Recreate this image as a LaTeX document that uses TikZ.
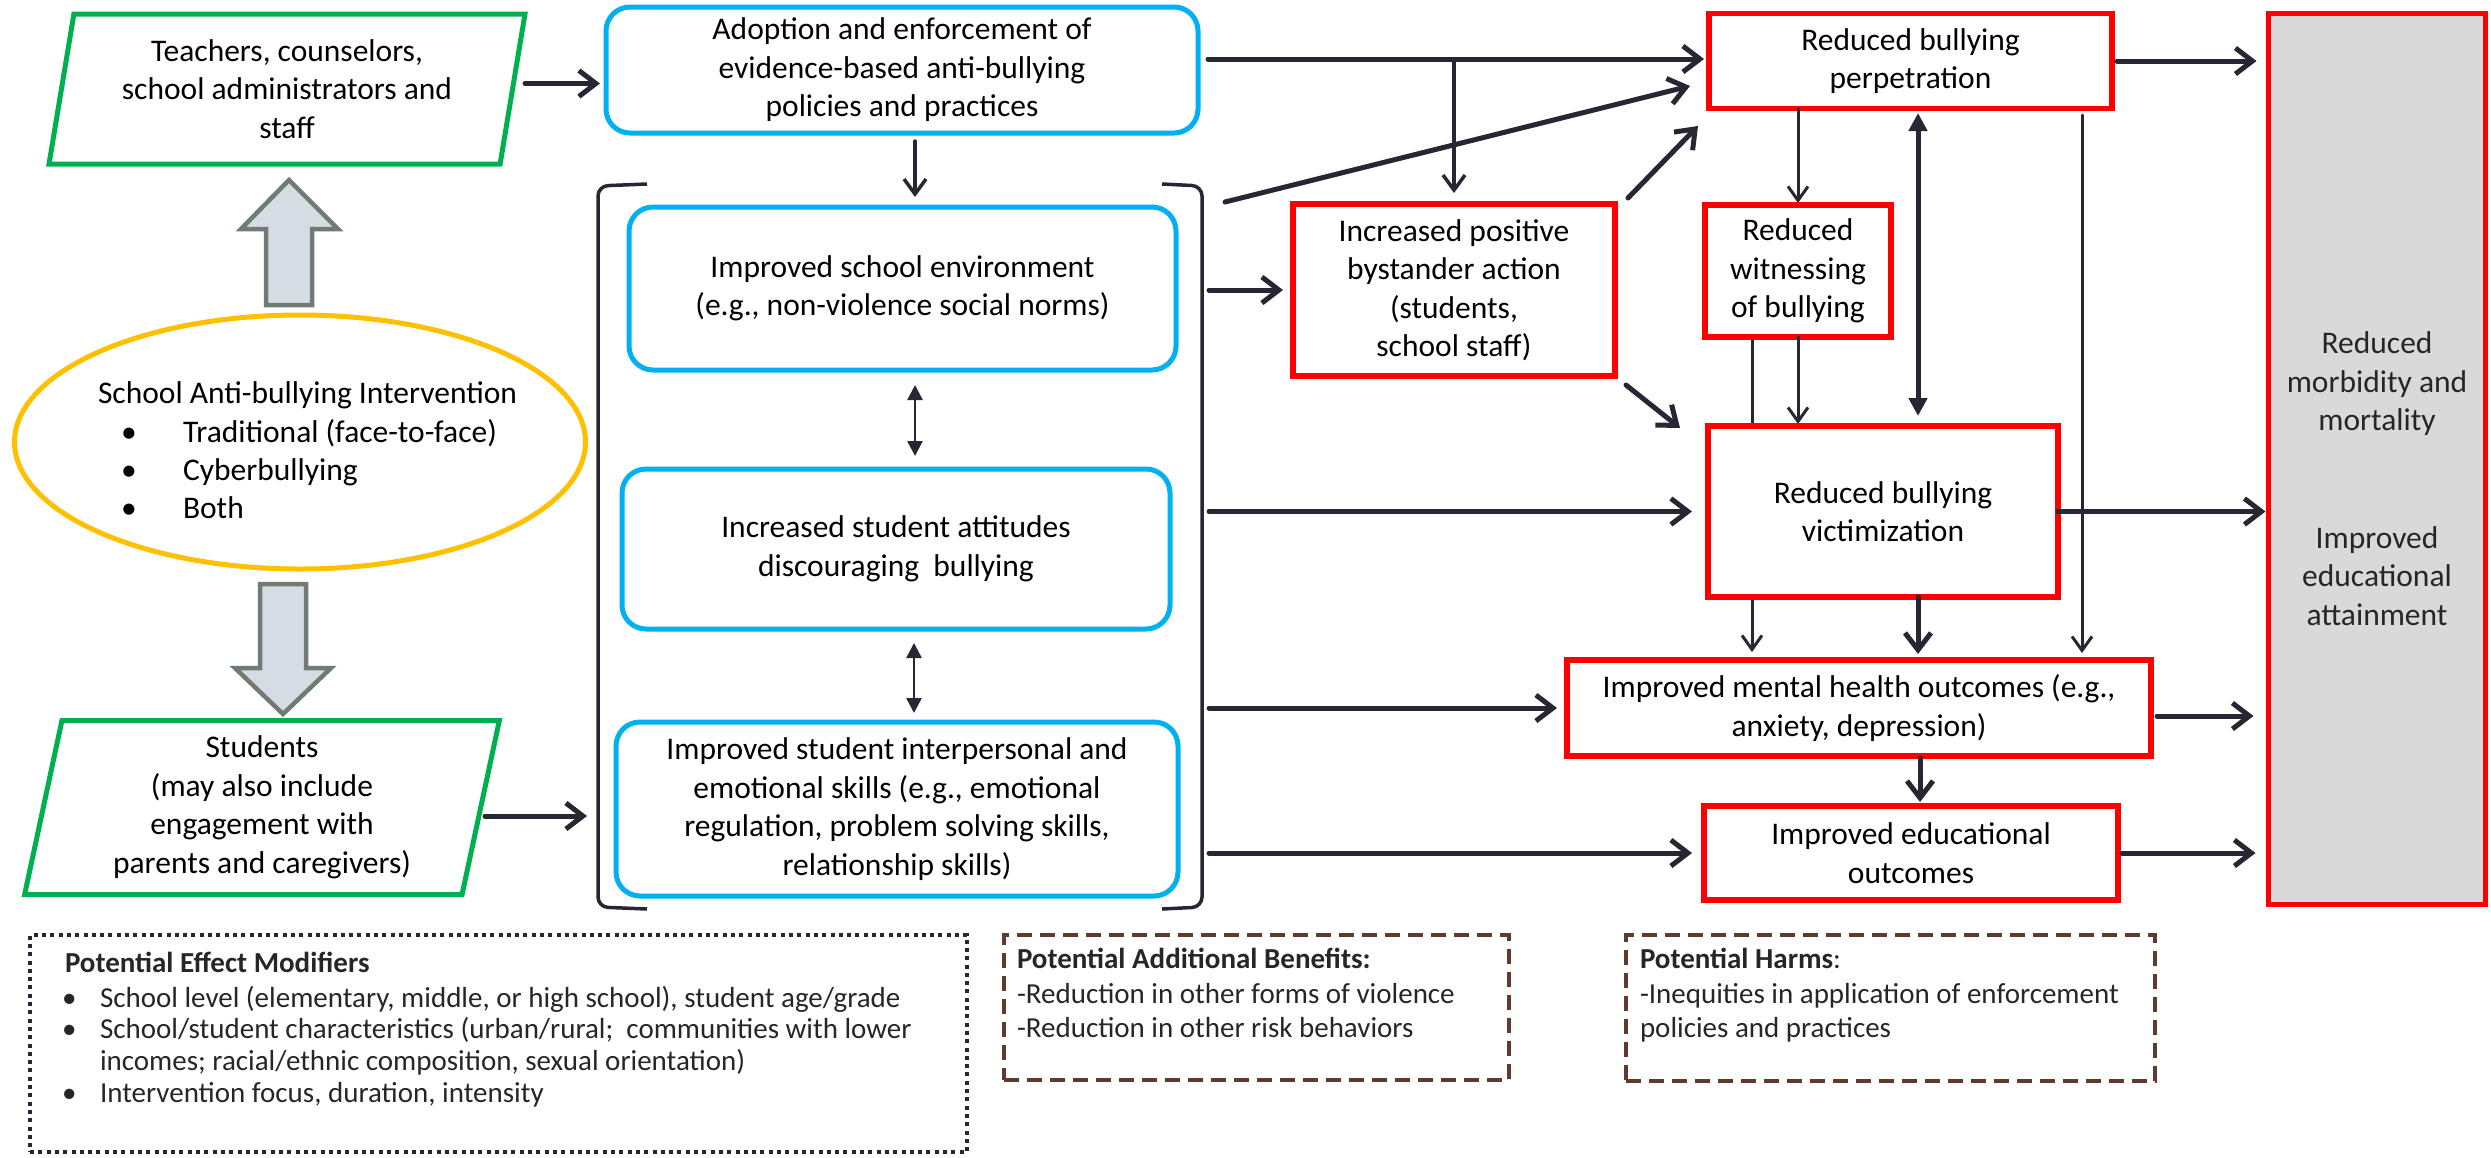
\documentclass[tikz,border=0pt]{standalone}
\usepackage{fontspec}
\setmainfont{Carlito}
\usetikzlibrary{arrows.meta,shapes.geometric,calc,backgrounds}
\definecolor{dk}{HTML}{262733}
\definecolor{txtc}{HTML}{262626}
\definecolor{grn}{HTML}{00B050}
\definecolor{blu}{HTML}{00B0F0}
\definecolor{rd}{HTML}{FF0000}
\definecolor{gold}{HTML}{FFC000}
\definecolor{gfill}{HTML}{D9D9D9}
\definecolor{afill}{HTML}{D6DCE4}
\definecolor{aline}{HTML}{6F7B73}
\definecolor{brn}{HTML}{5E3A2F}
\tikzset{
  mainfont/.style={font=\fontsize{31.5}{38.5}\selectfont},
  smallfont/.style={font=\fontsize{29}{32}\selectfont, text=txtc},
  para/.style={trapezium, trapezium left angle=79, trapezium right angle=101,
    trapezium stretches=true, draw=grn, line width=5pt, align=center, mainfont, fill=white},
  bluebox/.style={rectangle, rounded corners=24pt, draw=blu, line width=5pt, align=center, mainfont, fill=white},
  redbox/.style={rectangle, draw=rd, line width=5.5pt, fill=white, align=center, mainfont},
  arr/.style={draw=dk, line width=5pt, line cap=round, -{Straight Barb[length=17pt,width=26pt]}},
  medarr/.style={draw=dk, line width=3.5pt, line cap=round, -{Straight Barb[length=15pt,width=22pt]}},
  thinarr/.style={draw=dk, line width=3pt, line cap=round, -{Straight Barb[length=14pt,width=20pt]}},
  darr/.style={draw=dk, line width=2.5pt, {Triangle[length=15pt,width=15pt]}-{Triangle[length=15pt,width=15pt]}},
  dblarr/.style={draw=dk, line width=5pt, {Triangle[length=18pt,width=18pt]}-{Triangle[length=18pt,width=18pt]}},
  blockarrow/.style={draw=aline, fill=afill, line width=4.5pt, line join=miter},
  bracketline/.style={draw=dk, line width=3.5pt, rounded corners=10pt},
  dotbox/.style={rectangle, draw=dk, line width=4pt, dash pattern=on 4pt off 4.3pt},
  dashbox/.style={rectangle, draw=brn, line width=4pt, dash pattern=on 15pt off 8pt},
  eltext/.style={mainfont, anchor=base west},
}
\begin{document}
\begin{tikzpicture}[x=1pt,y=-1pt, every node/.style={inner sep=0pt, outer sep=0pt}]
\useasboundingbox (0,0) rectangle (2491,1157);

% left column
\node[para, minimum width=478pt, minimum height=150pt] (teach) at (287,89)
  {Teachers, counselors,\\school administrators and\\staff};
\node[para, minimum width=476pt, minimum height=174pt] (stud) at (262,807.5)
  {Students\\(may also include\\engagement with\\parents and caregivers)};
\node[ellipse, draw=gold, line width=5pt, minimum width=571pt, minimum height=254pt] (interv) at (300,442) {};
\node[eltext] (ielt) at (98,403) {School Anti-bullying Intervention};
\node[eltext] (ieb1) at (121,442) {•};
\node[eltext] (iel1) at (183,442) {Traditional (face-to-face)};
\node[eltext] (ieb2) at (121,480) {•};
\node[eltext] (iel2) at (183,480) {Cyberbullying};
\node[eltext] (ieb3) at (121,518) {•};
\node[eltext] (iel3) at (183,518) {Both};

% block arrows
\path[blockarrow] (266,305) -- (266,229) -- (241,229) -- (289,180) -- (338,229) -- (312,229) -- (312,305) -- cycle;
\path[blockarrow] (260,584) -- (306,584) -- (306,668) -- (331,668) -- (283,714) -- (235,668) -- (260,668) -- cycle;

% blue boxes
\node[bluebox, minimum width=592pt, minimum height=126pt] (adopt) at (902,70)
  {Adoption and enforcement of\\evidence-based anti-bullying\\policies and practices};
\node[bluebox, minimum width=547pt, minimum height=163pt] (env) at (902.5,288.5)
  {Improved school environment\\(e.g., non-violence social norms)};
\node[bluebox, minimum width=548pt, minimum height=160pt] (att) at (896,549)
  {Increased student attitudes\\discouraging\ \ bullying};
\node[bluebox, minimum width=562pt, minimum height=174pt] (skills) at (897,809)
  {Improved student interpersonal and\\emotional skills (e.g., emotional\\regulation, problem solving skills,\\relationship skills)};

% bracket
\path[bracketline] (647,184) -- (598,186) -- (598,907) -- (647,909);
\path[bracketline] (1162,184) -- (1202,186) -- (1202,907) -- (1162,909);
\coordinate (brR) at (1209,0);
\coordinate (brD) at (1225,202);

% red boxes
\node[redbox, minimum width=403pt, minimum height=95pt] (perp) at (1910.5,61)
  {Reduced bullying\\perpetration};
\node[redbox, minimum width=322pt, minimum height=172pt] (byst) at (1454,290)
  {Increased positive\\bystander action\\(students,\\school staff)};
\node[redbox, minimum width=186pt, minimum height=132pt] (witn) at (1798,271)
  {Reduced\\witnessing\\of bullying};
\node[redbox, minimum width=350pt, minimum height=171pt] (vict) at (1883,511.5)
  {Reduced bullying\\victimization};
\node[redbox, minimum width=584pt, minimum height=96pt] (mental) at (1859,708)
  {Improved mental health outcomes (e.g.,\\anxiety, depression)};
\node[redbox, minimum width=414pt, minimum height=94pt] (educ) at (1911,853)
  {Improved educational\\outcomes};

% outcome box
\node[rectangle, draw=rd, line width=5pt, fill=gfill, minimum width=217pt, minimum height=891pt] (outc) at (2377,459) {};
\node[mainfont, align=center, text=txtc] (outc1) at (2377,384) {Reduced\\morbidity and\\mortality};
\node[mainfont, align=center, text=txtc] (outc2) at (2377,576) {Improved\\educational\\attainment};

% connectors, left part
\draw[arr] ([shift={(238,-5.5)}]teach.center) -- ([shift={(-6,13.5)}]adopt.west);
\draw[arr] ([shift={(223,8.5)}]stud.center) -- ([shift={(-29,7)}]skills.west);
\draw[medarr] ([shift={(13,8)}]adopt.south) -- ([shift={(12.5,-10)}]env.north);
\draw[darr] ([shift={(12.5,15)}]env.south) -- ([shift={(19,-13)}]att.north);
\draw[darr] ([shift={(18,14)}]att.south) -- ([shift={(17,-9)}]skills.north);

% connectors, right part
\draw[arr] ([shift={(10,-11)}]adopt.east) -- ([shift={(-5,-2)}]perp.west);
\draw[medarr] ($(byst.north |- perp.west)+(0,-2)$) -- ([shift={(0,-11)}]byst.north);
\draw[arr] (brD) -- ([shift={(-19,25)}]perp.west);
\draw[arr] (brR |- byst.west) -- ([shift={(-10,0)}]byst.west);
\draw[arr] ([shift={(13,-6)}]byst.north east) -- ([shift={(-11,17.5)}]perp.south west);
\draw[arr] ([shift={(11,9)}]byst.south east) -- ([shift={(-28,2)}]vict.north west);
\draw[thinarr] (witn.north |- perp.south) -- ([shift={(0,-2)}]witn.north);
\draw[dblarr] ([shift={(7.5,4.5)}]perp.south) -- ([shift={(35,-10)}]vict.north);
\draw[thinarr] ([shift={(-30,6.5)}]perp.south east) -- ([shift={(-69,-7)}]mental.north east);
\begin{scope}[on background layer]
\draw[thinarr] ([shift={(-46,0)}]witn.south) -- ([shift={(-107,-8)}]mental.north);
\end{scope}
\draw[thinarr] (witn.south) -- ([shift={(-85,-2)}]vict.north);
\draw[arr] ([shift={(35,0)}]vict.south) -- ([shift={(59,-6)}]mental.north);
\draw[arr] (brR |- vict.west) -- ([shift={(-16,0)}]vict.west);
\draw[arr] (vict.east) -- ($(outc.west |- vict.east)+(-3,0)$);
\draw[arr] ([shift={(5,0)}]perp.east) -- ($(outc.west |- perp.east)+(-12,0)$);
\draw[arr] (brR |- mental.west) -- ([shift={(-10,0)}]mental.west);
\draw[arr] ([shift={(6,8)}]mental.east) -- ($(outc.west |- mental.east)+(-15,8)$);
\draw[arr] ([shift={(61,2)}]mental.south) -- ([shift={(9,-4)}]educ.north);
\draw[arr] (brR |- educ.west) -- ([shift={(-12,0)}]educ.west);
\draw[arr] ([shift={(4,0)}]educ.east) -- ($(outc.west |- educ.east)+(-13,0)$);

% bottom boxes
\node[dotbox, minimum width=937pt, minimum height=217pt] (modbox) at (498.5,1043.5) {};
\node[smallfont, anchor=base west] (modt) at (65,972) {\textbf{Potential Effect Modifiers}};
\node[smallfont, anchor=base west] (modb1) at (62,1007) {•};
\node[smallfont, anchor=base west] (mod1) at (100,1007) {School level (elementary, middle, or high school), student age/grade};
\node[smallfont, anchor=base west] (modb2) at (62,1038) {•};
\node[smallfont, anchor=base west] (mod2) at (100,1038) {School/student characteristics (urban/rural;\ \ communities with lower};
\node[smallfont, anchor=base west] (mod3) at (100,1070) {incomes; racial/ethnic composition, sexual orientation)};
\node[smallfont, anchor=base west] (modb4) at (62,1102) {•};
\node[smallfont, anchor=base west] (mod4) at (100,1102) {Intervention focus, duration, intensity};

\node[dashbox, minimum width=505pt, minimum height=145pt] (benbox) at (1256.5,1007.5) {};
\node[smallfont, anchor=base west] (bent) at (1017,968) {\textbf{Potential Additional Benefits:}};
\node[smallfont, anchor=base west] (ben1) at (1017,1003) {-Reduction in other forms of violence};
\node[smallfont, anchor=base west] (ben2) at (1017,1037) {-Reduction in other risk behaviors};

\node[dashbox, minimum width=529pt, minimum height=146pt] (harmbox) at (1890.5,1008) {};
\node[smallfont, anchor=base west] (harmt) at (1640,968) {\textbf{Potential Harms}:};
\node[smallfont, anchor=base west] (harm1) at (1640,1003) {-Inequities in application of enforcement};
\node[smallfont, anchor=base west] (harm2) at (1640,1037) {policies and practices};
\end{tikzpicture}
\end{document}
